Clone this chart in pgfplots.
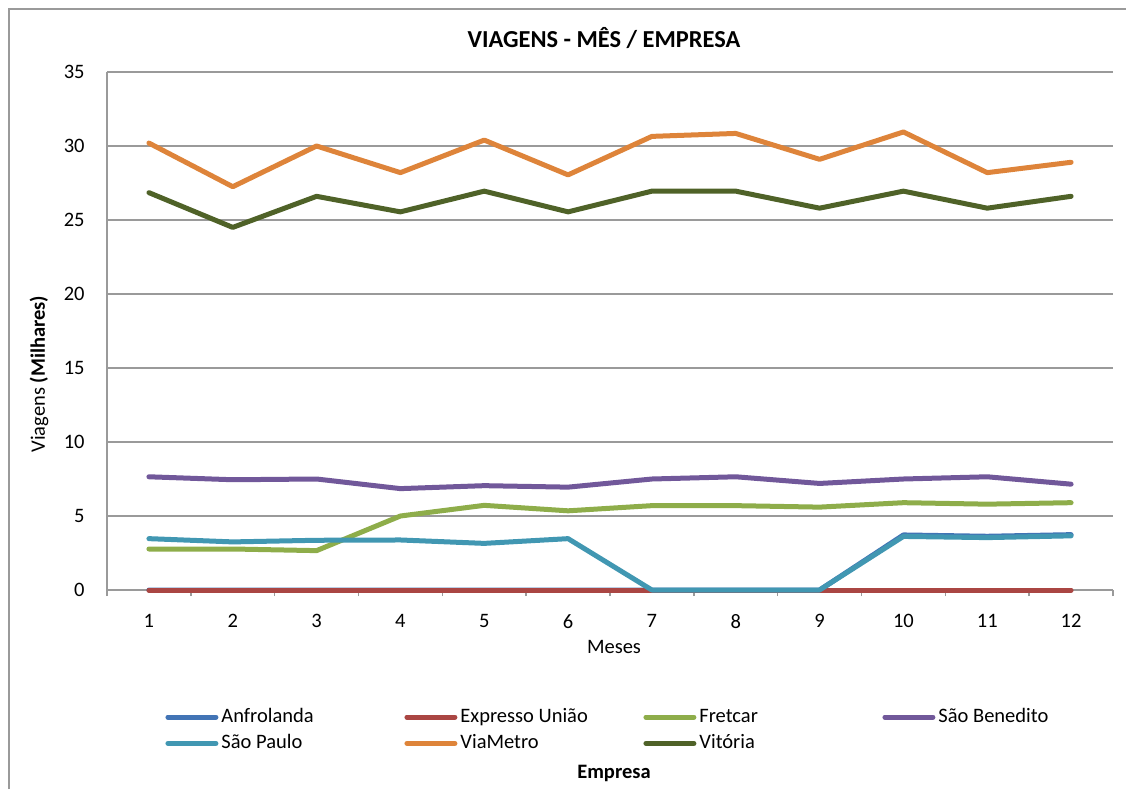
\documentclass[border=0pt]{standalone}
\usepackage{pgfplots}
\pgfplotsset{compat=1.18}
\usepackage{fontspec}
\setmainfont{Carlito}
\definecolor{cAnf}{HTML}{4274B5}
\definecolor{cExp}{HTML}{AA4643}
\definecolor{cFre}{HTML}{8EAD4A}
\definecolor{cSBe}{HTML}{71589A}
\definecolor{cSPa}{HTML}{4197B2}
\definecolor{cVia}{HTML}{DE843A}
\definecolor{cVit}{HTML}{4F6228}
\definecolor{gridc}{HTML}{9A9A9A}
\newcommand{\lbox}[1]{\makebox[91.5pt][l]{#1}}
\begin{document}
\begin{tikzpicture}[font=\fontsize{10.25}{12}\selectfont]
\path[use as bounding box] (0,0) rectangle (563pt,394.5pt);
\draw[gridc, line width=1pt] (4.5pt,0) -- (4.5pt,390pt) -- (563pt,390pt);
\begin{axis}[
  at={(53.5pt,99.5pt)}, anchor=south west,
  scale only axis, width=503pt, height=259pt,
  xmin=0.5, xmax=12.5, ymin=0, ymax=35,
  xtick={1,...,12}, ytick={0,5,...,35},
  minor xtick={0.5,1.5,...,12.5},
  axis lines=left, axis line style={-, gridc, line width=1pt},
  ymajorgrids, grid style={gridc, line width=0.8pt},
  major tick length=0pt, minor tick length=3pt, tick align=outside,
  minor tick style={gridc, line width=0.8pt},
  /pgf/number format/assume math mode=true,
  ticklabel style={font=\fontsize{10.25}{12}\selectfont},
  xticklabel style={inner sep=0pt, anchor=north, yshift=-12pt},
  yticklabel style={inner sep=0pt, anchor=east, xshift=-11pt},
  clip=false,
  legend columns=4,
  legend style={draw=none, fill=none, at={(0.0577,-0.228)}, anchor=north west,
    inner sep=0pt, nodes={inner sep=0pt, font=\fontsize{10.25}{12}\selectfont},
    row sep=4.5pt,
    /tikz/every odd column/.style={column sep=1.5pt},
    /tikz/every even column/.style={column sep=0pt}},
  legend cell align=left,
  legend image code/.code={\draw[#1, line width=2.5pt, line cap=round] (0pt,0pt) -- (24pt,0pt);},
  every axis plot/.append style={line width=2.5pt, line join=round, line cap=round, mark=none},
]
\addplot[cAnf] coordinates {(1,0)(2,0)(3,0)(4,0)(5,0)(6,0)(7,0)(8,0)(9,0)(10,3.72)(11,3.63)(12,3.74)};
\addplot[cExp] coordinates {(1,0)(2,0)(3,0)(4,0)(5,0)(6,0)(7,0)(8,0)(9,0)(10,0)(11,0)(12,0)};
\addplot[cFre] coordinates {(1,2.77)(2,2.77)(3,2.66)(4,5.0)(5,5.72)(6,5.35)(7,5.7)(8,5.7)(9,5.6)(10,5.9)(11,5.8)(12,5.9)};
\addplot[cSBe] coordinates {(1,7.65)(2,7.45)(3,7.5)(4,6.85)(5,7.05)(6,6.95)(7,7.5)(8,7.65)(9,7.2)(10,7.5)(11,7.65)(12,7.15)};
\addplot[cSPa] coordinates {(1,3.47)(2,3.25)(3,3.36)(4,3.38)(5,3.15)(6,3.47)(7,0)(8,0)(9,0)(10,3.62)(11,3.54)(12,3.66)};
\addplot[cVia] coordinates {(1,30.2)(2,27.25)(3,30.0)(4,28.2)(5,30.4)(6,28.05)(7,30.65)(8,30.85)(9,29.1)(10,30.95)(11,28.2)(12,28.9)};
\addplot[cVit] coordinates {(1,26.85)(2,24.5)(3,26.6)(4,25.55)(5,26.95)(6,25.55)(7,26.95)(8,26.95)(9,25.8)(10,26.95)(11,25.8)(12,26.6)};
\legend{\lbox{Anfrolanda},\lbox{Expresso União},\lbox{Fretcar},\lbox{São Benedito},\lbox{São Paulo},\lbox{ViaMetro},\lbox{Vitória}}
\end{axis}
\node[font=\fontsize{12.2}{14}\selectfont\bfseries] at (302pt,375.5pt) {VIAGENS - MÊS / EMPRESA};
\node[rotate=90] at (19.5pt,207.5pt) {Viagens \textbf{(Milhares)}};
\node at (307pt,71pt) {Meses};
\node[font=\fontsize{10.25}{12}\selectfont\bfseries] at (307pt,8pt) {Empresa};
\end{tikzpicture}
\end{document}
